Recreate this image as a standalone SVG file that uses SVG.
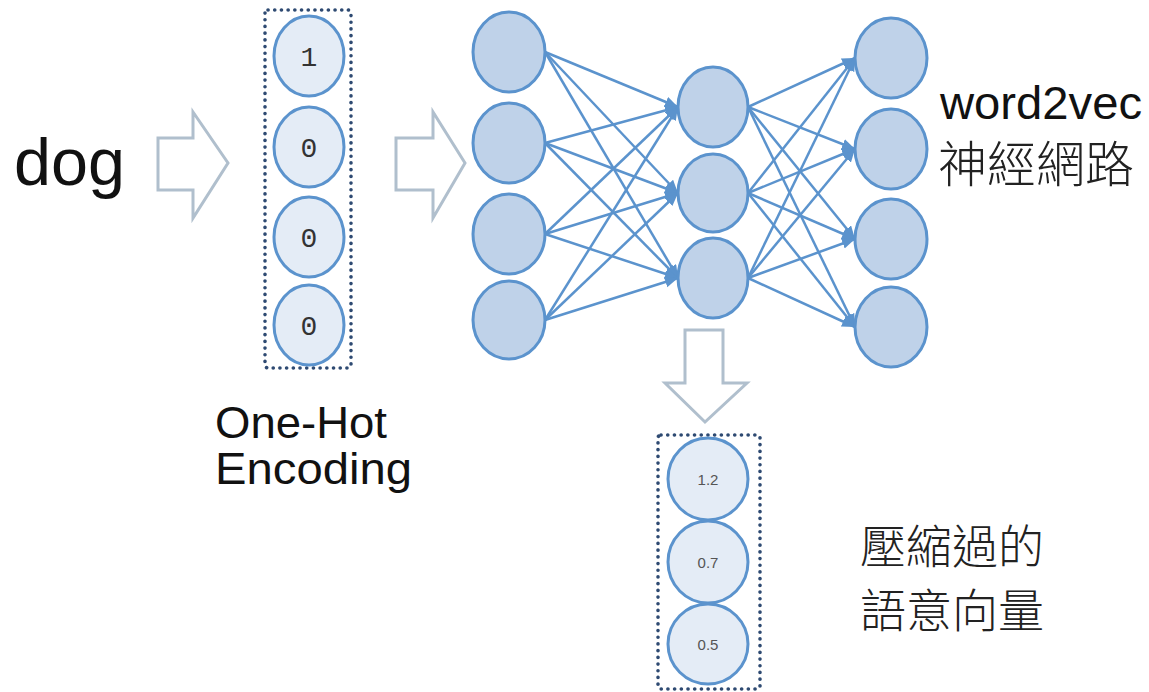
<svg xmlns="http://www.w3.org/2000/svg" width="1149" height="692" viewBox="0 0 1149 692">
  <style>
    .node { fill: #bfd2e9; stroke: #5b93cd; stroke-width: 3; }
    .cell { fill: #e4ecf6; stroke: #5b93cd; stroke-width: 3; }
    .dots { fill: none; stroke: #2e4a72; stroke-width: 3.6; stroke-dasharray: 0.1 6.6; stroke-linecap: round; }
    .hollow { fill: #ffffff; stroke: #b0bfcd; stroke-width: 3; stroke-linejoin: miter; }
    .edge { stroke: #5b93cd; stroke-width: 2.5; fill: none; marker-end: url(#tip); }
    .big { font-family: "Liberation Sans", Arial, sans-serif; fill: #111; }
    .cjk { font-family: "Noto Sans CJK TC", "Noto Sans CJK SC", sans-serif; fill: #222; font-weight: 300; }
    .bit { font-family: "Liberation Mono", "Courier New", monospace; font-size: 28px; fill: #333; text-anchor: middle; }
    .val { font-family: "Liberation Sans", Arial, sans-serif; font-size: 15px; fill: #555; text-anchor: middle; }
  </style>
  <defs>
    <marker id="tip" markerUnits="userSpaceOnUse" markerWidth="15" markerHeight="12" refX="13" refY="5.5" orient="auto">
      <path d="M0,0 L13,5.5 L0,11 Z" fill="#5b93cd"/>
    </marker>
  </defs>

  <rect width="1149" height="692" fill="#ffffff"/>

  <!-- input word -->
  <g id="word">
    <text class="big" x="14" y="185" font-size="66" textLength="111" lengthAdjust="spacingAndGlyphs">dog</text>
  </g>

  <!-- block arrows -->
  <g id="arrow-to-onehot">
    <polygon class="hollow" points="158,138 193,138 193,112 228,163 193,218 193,190 158,190"/>
  </g>
  <g id="arrow-to-network">
    <polygon class="hollow" points="396,138 433,138 433,112 465,163 433,218 433,190 396,190"/>
  </g>
  <g id="arrow-to-vector">
    <polygon class="hollow" points="685,330 723,330 723,383 747,383 705,422 665,383 685,383"/>
  </g>

  <!-- one-hot vector -->
  <g id="onehot">
    <rect class="dots" x="265" y="10" width="86" height="358" rx="3"/>
    <ellipse class="cell" cx="309" cy="56" rx="35" ry="40"/>
    <ellipse class="cell" cx="309" cy="147" rx="35" ry="40"/>
    <ellipse class="cell" cx="309" cy="237" rx="35" ry="40"/>
    <ellipse class="cell" cx="309" cy="325" rx="35" ry="40"/>
    <text class="bit" x="309" y="66">1</text>
    <text class="bit" x="309" y="157">0</text>
    <text class="bit" x="309" y="247">0</text>
    <text class="bit" x="309" y="335">0</text>
  </g>
  <g id="onehot-label">
    <text class="big" x="215" y="438" font-size="45" textLength="172" lengthAdjust="spacingAndGlyphs">One-Hot</text>
    <text class="big" x="215" y="484" font-size="45" textLength="197" lengthAdjust="spacingAndGlyphs">Encoding</text>
  </g>

  <!-- network connectors -->
  <g id="connectors">
    <!-- input layer to hidden layer -->
    <line class="edge" x1="545" y1="52" x2="678" y2="107"/>
    <line class="edge" x1="545" y1="52" x2="678" y2="193"/>
    <line class="edge" x1="545" y1="52" x2="678" y2="278"/>
    <line class="edge" x1="545" y1="143" x2="678" y2="107"/>
    <line class="edge" x1="545" y1="143" x2="678" y2="193"/>
    <line class="edge" x1="545" y1="143" x2="678" y2="278"/>
    <line class="edge" x1="545" y1="234" x2="678" y2="107"/>
    <line class="edge" x1="545" y1="234" x2="678" y2="193"/>
    <line class="edge" x1="545" y1="234" x2="678" y2="278"/>
    <line class="edge" x1="545" y1="320" x2="678" y2="107"/>
    <line class="edge" x1="545" y1="320" x2="678" y2="193"/>
    <line class="edge" x1="545" y1="320" x2="678" y2="278"/>
    <!-- hidden layer to output layer -->
    <line class="edge" x1="748" y1="107" x2="855" y2="58"/>
    <line class="edge" x1="748" y1="107" x2="855" y2="149"/>
    <line class="edge" x1="748" y1="107" x2="855" y2="239"/>
    <line class="edge" x1="748" y1="107" x2="855" y2="327"/>
    <line class="edge" x1="748" y1="193" x2="855" y2="58"/>
    <line class="edge" x1="748" y1="193" x2="855" y2="149"/>
    <line class="edge" x1="748" y1="193" x2="855" y2="239"/>
    <line class="edge" x1="748" y1="193" x2="855" y2="327"/>
    <line class="edge" x1="748" y1="278" x2="855" y2="58"/>
    <line class="edge" x1="748" y1="278" x2="855" y2="149"/>
    <line class="edge" x1="748" y1="278" x2="855" y2="239"/>
    <line class="edge" x1="748" y1="278" x2="855" y2="327"/>
  </g>

  <!-- input layer -->
  <g id="in1"><ellipse class="node" cx="509" cy="52" rx="36" ry="40"/></g>
  <g id="in2"><ellipse class="node" cx="509" cy="143" rx="36" ry="40"/></g>
  <g id="in3"><ellipse class="node" cx="509" cy="234" rx="36" ry="40"/></g>
  <g id="in4"><ellipse class="node" cx="509" cy="320" rx="36" ry="39"/></g>

  <!-- hidden layer -->
  <g id="hid1"><ellipse class="node" cx="713" cy="107" rx="35" ry="40"/></g>
  <g id="hid2"><ellipse class="node" cx="713" cy="193" rx="35" ry="39"/></g>
  <g id="hid3"><ellipse class="node" cx="713" cy="278" rx="35" ry="40"/></g>

  <!-- output layer -->
  <g id="out1"><ellipse class="node" cx="891" cy="58" rx="36" ry="40"/></g>
  <g id="out2"><ellipse class="node" cx="891" cy="149" rx="36" ry="40"/></g>
  <g id="out3"><ellipse class="node" cx="891" cy="239" rx="36" ry="40"/></g>
  <g id="out4"><ellipse class="node" cx="891" cy="327" rx="36" ry="40"/></g>

  <g id="network-label">
    <text class="big" x="940" y="119" font-size="46" textLength="202" lengthAdjust="spacingAndGlyphs">word2vec</text>
    <text class="cjk" x="938" y="182" font-size="49">神經網路</text>
  </g>

  <!-- compressed vector -->
  <g id="embedding">
    <rect class="dots" x="658" y="435" width="102" height="254" rx="3"/>
    <ellipse class="cell" cx="708" cy="479" rx="40" ry="41"/>
    <ellipse class="cell" cx="708" cy="562" rx="40" ry="41"/>
    <ellipse class="cell" cx="708" cy="644" rx="40" ry="40"/>
    <text class="val" x="708" y="485">1.2</text>
    <text class="val" x="708" y="568">0.7</text>
    <text class="val" x="708" y="650">0.5</text>
  </g>
  <g id="embedding-label">
    <text class="cjk" x="860" y="563" font-size="46">壓縮過的</text>
    <text class="cjk" x="860" y="627" font-size="46">語意向量</text>
  </g>
</svg>
